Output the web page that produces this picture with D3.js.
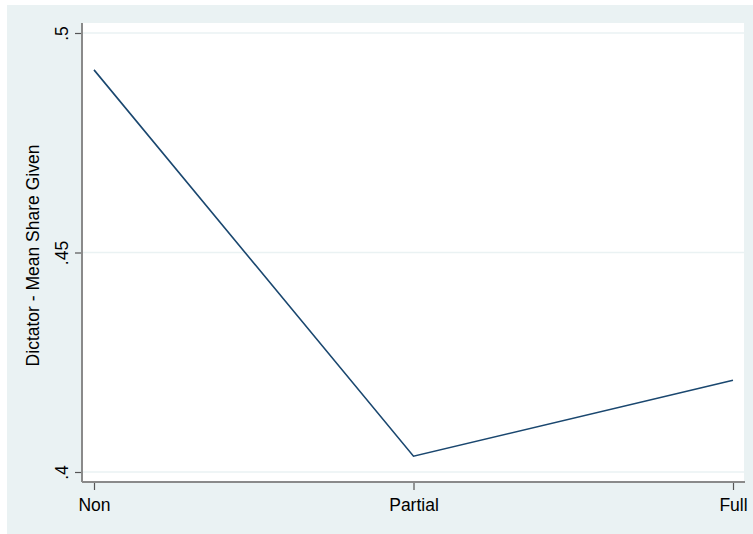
<!DOCTYPE html>
<html>
<head>
<meta charset="utf-8">
<script src="https://cdn.jsdelivr.net/npm/d3@7"></script>
<style>
  html, body { margin: 0; padding: 0; background: #ffffff; }
  svg { display: block; font-family: "Liberation Sans", Arial, sans-serif; }
</style>
</head>
<body>
<svg id="chart" width="753" height="534"></svg>
<script>
// Mean share given in the dictator game, by group
const categories = ["Non", "Partial", "Full"];
const meanShare = [0.4916, 0.4036, 0.4209];
const yTicks = [0.4, 0.45, 0.5];
const yTickLabels = [".4", ".45", ".5"];
const yTitle = "Dictator - Mean Share Given";

const svg = d3.select("#chart");

// graph region and plot region
const outer = { x0: 7, y0: 5, x1: 753, y1: 534 };
const plot = { x0: 82, y0: 23, x1: 744, y1: 482 };

svg.append("rect")
  .attr("x", outer.x0).attr("y", outer.y0)
  .attr("width", outer.x1 - outer.x0).attr("height", outer.y1 - outer.y0)
  .attr("fill", "#eaf2f3");

svg.append("rect")
  .attr("x", plot.x0).attr("y", plot.y0)
  .attr("width", plot.x1 - plot.x0).attr("height", plot.y1 - plot.y0)
  .attr("fill", "#ffffff");

const x = d3.scalePoint().domain(categories).range([94, 733]);
const y = d3.scaleLinear().domain([0.4, 0.5]).range([472, 33]);

// horizontal grid lines
svg.append("g")
  .selectAll("line")
  .data(yTicks)
  .join("line")
  .attr("x1", plot.x0).attr("x2", plot.x1)
  .attr("y1", d => y(d)).attr("y2", d => y(d))
  .attr("stroke", "#eaf2f3")
  .attr("stroke-width", 1.5);

// y axis
const yAxis = svg.append("g")
  .attr("transform", `translate(${plot.x0},0)`)
  .call(d3.axisLeft(y).tickValues(yTicks)
    .tickFormat((d, i) => yTickLabels[i])
    .tickSize(7).tickSizeOuter(0));
yAxis.select(".domain").remove();
yAxis.append("line")
  .attr("x1", 0).attr("x2", 0)
  .attr("y1", plot.y0).attr("y2", plot.y1)
  .attr("stroke", "#8a8a8a").attr("stroke-width", 2);
yAxis.selectAll(".tick line").attr("stroke", "#555").attr("stroke-width", 1.2);
yAxis.selectAll(".tick text")
  .attr("fill", "#000")
  .attr("font-size", 17.5)
  .attr("text-anchor", "middle")
  .attr("dy", 0)
  .attr("x", 0)
  .attr("y", 0)
  .attr("transform", "translate(-14,0) rotate(-90)");

// x axis
const xAxis = svg.append("g")
  .attr("transform", `translate(0,${plot.y1})`)
  .call(d3.axisBottom(x).tickSize(8).tickSizeOuter(0).tickPadding(9));
xAxis.select(".domain").remove();
xAxis.append("line")
  .attr("x1", plot.x0).attr("x2", plot.x1 + 1)
  .attr("y1", 0).attr("y2", 0)
  .attr("stroke", "#8a8a8a").attr("stroke-width", 2);
xAxis.selectAll(".tick line").attr("stroke", "#555").attr("stroke-width", 1.2);
xAxis.selectAll(".tick text")
  .attr("fill", "#000")
  .attr("font-size", 17.5);

// y title
svg.append("text")
  .attr("transform", `translate(39,${(plot.y0 + plot.y1) / 2 + 3}) rotate(-90)`)
  .attr("text-anchor", "middle")
  .attr("font-size", 17.5)
  .attr("fill", "#000")
  .text(yTitle);

// mean share line
const line = d3.line()
  .x((d, i) => x(categories[i]))
  .y(d => y(d));
svg.append("path")
  .datum(meanShare)
  .attr("d", line)
  .attr("fill", "none")
  .attr("stroke", "#1a476f")
  .attr("stroke-width", 1.6);
</script>
</body>
</html>
